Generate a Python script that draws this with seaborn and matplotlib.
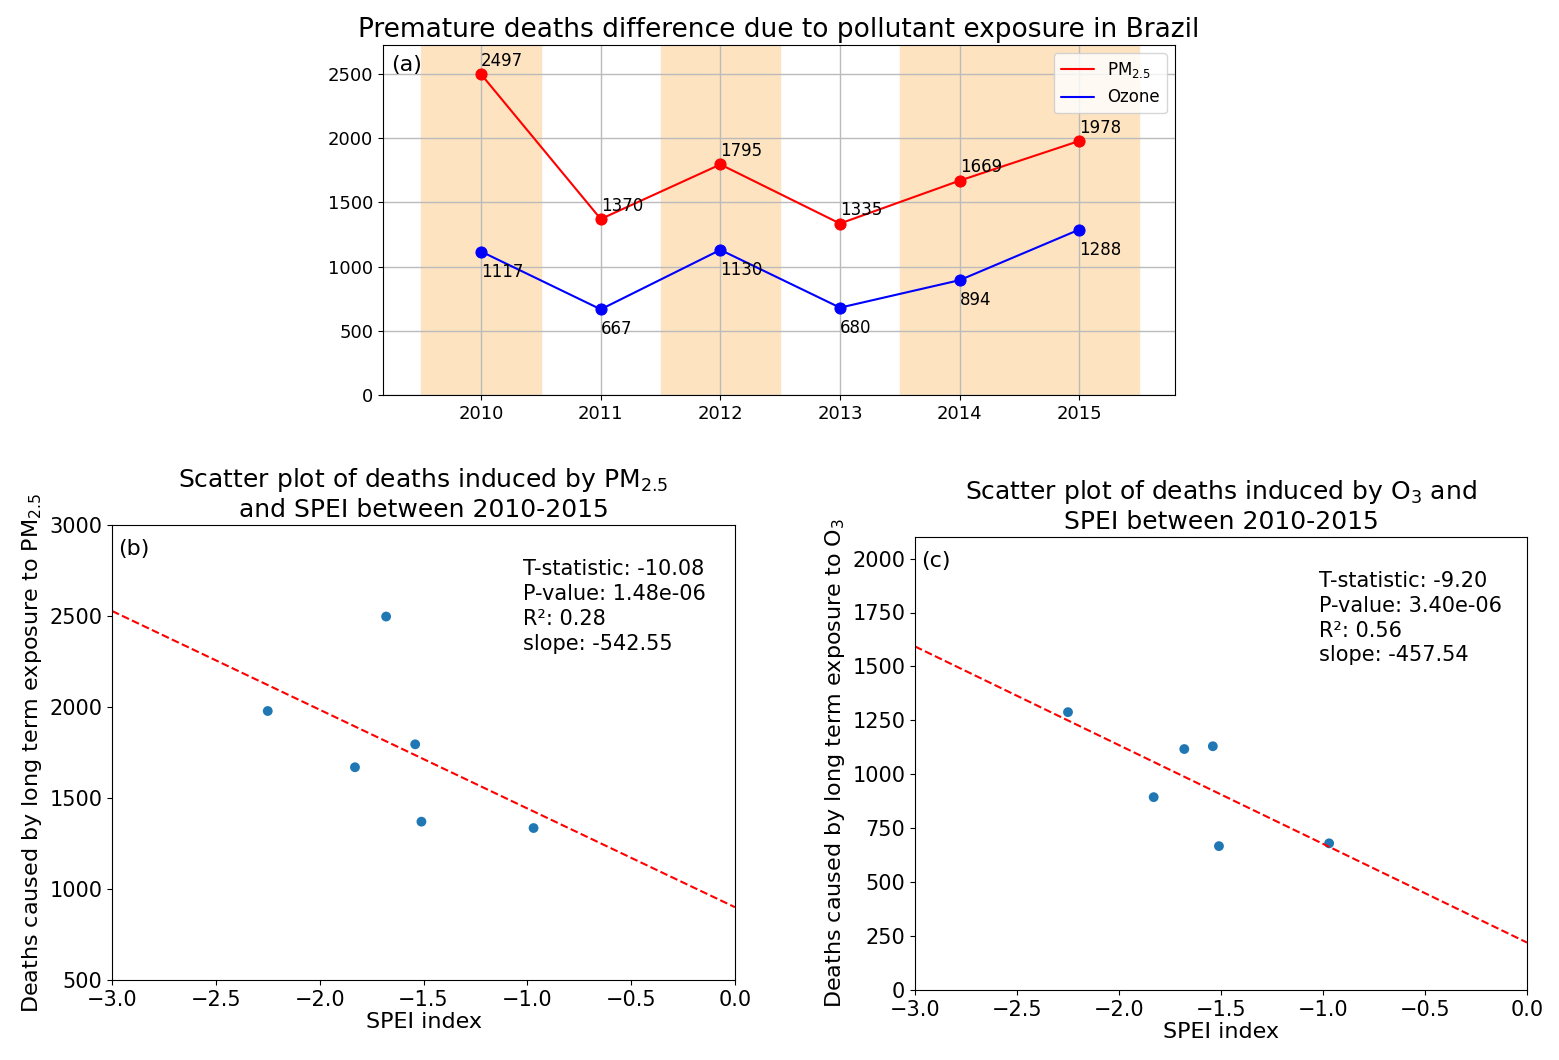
import numpy as np
import matplotlib.pyplot as plt
from matplotlib.lines import Line2D
import seaborn as sns

plt.switch_backend('Agg')
sns.set_style("white")
plt.rcParams.update({'text.color': 'black', 'axes.labelcolor': 'black',
                     'xtick.color': 'black', 'ytick.color': 'black',
                     'axes.edgecolor': 'black'})

years = [2010, 2011, 2012, 2013, 2014, 2015]
pm25 = [2497, 1370, 1795, 1335, 1669, 1978]
ozone = [1117, 667, 1130, 680, 894, 1288]
spei = [-1.68, -1.51, -1.54, -0.97, -1.83, -2.25]
shaded_years = [2010, 2012, 2014, 2015]

pm_stats = {"t": -10.08, "p": "1.48e-06", "r2": 0.28, "slope": -542.55, "icpt": 900}
o3_stats = {"t": -9.20, "p": "3.40e-06", "r2": 0.56, "slope": -457.54, "icpt": 220}

fig = plt.figure(figsize=(15.59, 10.6), dpi=100)
W, H = 1559, 1060
def axes_px(l, t, r, b):
    return fig.add_axes([l / W, 1 - b / H, (r - l) / W, (b - t) / H])

# (a)
ax = axes_px(383, 45, 1175, 395)
for y in shaded_years:
    ax.axvspan(y - 0.5, y + 0.5, color='#fde3c0', zorder=0)
sns.lineplot(x=years, y=pm25, ax=ax, color='red', marker='o', markersize=8,
             markeredgecolor='red', legend=False)
sns.lineplot(x=years, y=ozone, ax=ax, color='blue', marker='o', markersize=8,
             markeredgecolor='blue', legend=False)
for x, v in zip(years, pm25):
    ax.annotate(str(v), (x, v), xytext=(0, 6), textcoords='offset points', fontsize=12)
for x, v in zip(years, ozone):
    ax.annotate(str(v), (x, v), xytext=(0, -18), textcoords='offset points', fontsize=12)
ax.set_xlim(2009.18, 2015.8)
ax.set_ylim(0, 2725)
ax.set_xticks(years)
ax.set_yticks(range(0, 2501, 500))
ax.grid(True, color='#bbbbbb', linewidth=1)
ax.set_axisbelow(True)
ax.tick_params(labelsize=13, left=True, bottom=True)
ax.set_title('Premature deaths difference due to pollutant exposure in Brazil', fontsize=19)
ax.text(0.01, 0.97, '(a)', transform=ax.transAxes, fontsize=16, va='top')
handles = [Line2D([], [], color='red', lw=1.5), Line2D([], [], color='blue', lw=1.5)]
ax.legend(handles, ['PM$_{2.5}$', 'Ozone'], loc='upper right', fontsize=12)

def scatter_panel(ax, deaths, st, tag, title, ylabel, ylim, yticks):
    sns.scatterplot(x=spei, y=deaths, ax=ax, s=50, color='#1f77b4', edgecolor='none')
    xs = np.array([-3.0, 0.0])
    ax.plot(xs, st["icpt"] + st["slope"] * xs, 'r--', linewidth=1.5)
    ax.set_xlim(-3, 0)
    ax.set_ylim(*ylim)
    ax.set_yticks(yticks)
    ax.tick_params(labelsize=15, left=True, bottom=True)
    ax.set_xlabel('SPEI index', fontsize=16, labelpad=2)
    ax.set_ylabel(ylabel, fontsize=16)
    ax.set_title(title, fontsize=18)
    ax.text(0.01, 0.97, tag, transform=ax.transAxes, fontsize=16, va='top')
    txt = (f"T-statistic: {st['t']:.2f}\nP-value: {st['p']}\n"
           f"R²: {st['r2']:.2f}\nslope: {st['slope']:.2f}")
    ax.text(0.66, 0.925, txt, transform=ax.transAxes, fontsize=15, va='top',
            linespacing=1.3)

ax_b = axes_px(112, 525, 735, 980)
scatter_panel(ax_b, pm25, pm_stats, '(b)',
              'Scatter plot of deaths induced by PM$_{2.5}$\nand SPEI between 2010-2015',
              'Deaths caused by long term exposure to PM$_{2.5}$',
              (500, 3000), range(500, 3001, 500))

ax_c = axes_px(915, 537, 1527, 990)
scatter_panel(ax_c, ozone, o3_stats, '(c)',
              'Scatter plot of deaths induced by O$_3$ and\nSPEI between 2010-2015',
              'Deaths caused by long term exposure to O$_3$',
              (0, 2100), range(0, 2001, 250))

fig.savefig('out.png', dpi=100)
